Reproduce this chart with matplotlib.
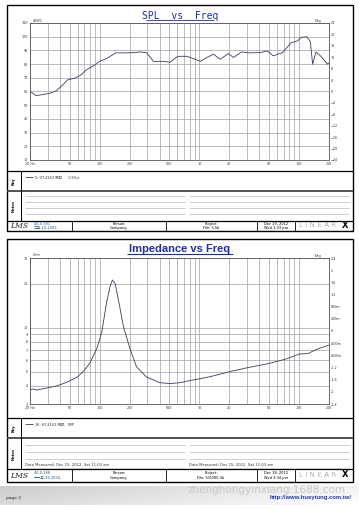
"""Two-page LMS style report: SPL vs Freq and Impedance vs Freq."""

import matplotlib

matplotlib.use("Agg")

import matplotlib.pyplot as plt
import numpy as np

# ---- data ----
freq_ticks = [20, 50, 100, 200, 500, 1000, 2000, 5000, 10000, 20000]
freq_labels = ["20 Hz", "50", "100", "200", "500", "1K", "2K", "5K", "10K", "20K"]

spl_freq = [20, 23, 27, 32, 37, 42, 48, 57, 64, 74, 86, 100, 117, 145, 187, 226,
            254, 297, 346, 436, 508, 594, 640, 748, 873, 1020, 1190, 1390, 1620,
            1960, 2200, 2660, 3100, 4100, 4800, 5520, 6830, 8300, 9700, 10500,
            12000, 13000, 13700, 14800, 16600, 19300, 20000]
spl_db = [60.2, 57.0, 57.8, 58.8, 60.7, 64.4, 68.6, 69.8, 71.8, 75.9, 78.6, 82.0,
          84.0, 88.2, 88.2, 88.4, 88.9, 88.2, 82.0, 82.0, 81.3, 85.2, 85.7, 85.7,
          84.0, 82.0, 84.8, 87.2, 83.5, 87.7, 84.8, 88.9, 88.2, 88.4, 89.6, 86.0,
          88.4, 95.5, 97.0, 99.5, 100.0, 96.3, 79.9, 88.9, 85.7, 80.0, 81.0]
spl_left_ticks = [10, 20, 30, 40, 50, 60, 70, 80, 90, 100, 110]
spl_right_ticks = [-24, -20, -16, -12, -8, -4, 0, 4, 8, 12, 16, 20, 24]

imp_freq = [20, 21.6, 23.4, 29.4, 37, 46.6, 59, 68.6, 80, 93.5, 105, 117, 127,
            134, 143, 154, 173, 201, 234, 294, 400, 506, 640, 813, 1020, 1290,
            2030, 2970, 5100, 7400, 10100, 12300, 15000, 20000]
imp_ohm = [3.76, 3.80, 3.74, 3.86, 3.99, 4.22, 4.57, 5.01, 5.73, 7.2, 9.3, 14.7,
           19.1, 21.2, 20.0, 15.6, 10.2, 7.2, 5.4, 4.6, 4.2, 4.14, 4.2, 4.35, 4.47,
           4.62, 5.0, 5.3, 5.7, 6.1, 6.6, 6.65, 7.1, 7.6]
imp_left_ticks = [3, 4, 5, 6, 7, 8, 9, 10, 20, 30]
imp_right_ticks = [-2.4, -2.0, -1.6, -1.2, -0.8, -0.4, 0.0, 0.4, 0.8, 1.2, 1.6, 2.0, 2.4]
imp_right_labels = ["-2.4", "-2", "-1.6", "-1.2", "-800m", "-400m", "0",
                    "400m", "800m", "1.2", "1.6", "2", "2.4"]

W, H = 359, 509
CURVE = "#3c3c5c"
GRID = "#a0a0a0"
TICK_FS = 2.4
CJK = ["DejaVu Sans", "Noto Sans CJK TC"]

fig = plt.figure(figsize=(W / 100, H / 100), dpi=100)
page = fig.add_axes([0, 0, 1, 1])
page.set_xlim(0, W)
page.set_ylim(H, 0)
page.axis("off")


def place_axes(left, top, right, bottom):
    return fig.add_axes([left / W, 1 - bottom / H, (right - left) / W, (bottom - top) / H])


def hline(y, x0, x1, **kw):
    page.plot([x0, x1], [y, y], solid_capstyle="butt", **kw)


def vline(x, y0, y1, **kw):
    page.plot([x, x], [y0, y1], solid_capstyle="butt", **kw)


def setup_freq_axis(ax):
    ax.set_xscale("log")
    ax.set_xlim(20, 20000)
    ax.set_xticks(freq_ticks)
    ax.set_xticklabels(freq_labels)
    ax.xaxis.set_minor_formatter(plt.NullFormatter())
    ax.grid(which="major", axis="x", color=GRID, linewidth=0.5)
    ax.grid(which="minor", axis="x", color=GRID, linewidth=0.5)
    ax.grid(which="major", axis="y", color=GRID, linewidth=0.5)
    ax.tick_params(axis="both", which="both", length=0, labelsize=TICK_FS, pad=1.5,
                   colors="#333333")
    for spine in ax.spines.values():
        spine.set_color("#555555")
        spine.set_linewidth(0.6)


def draw_page_frame(top, bottom, key_top, notes_top, footer_top, key_text,
                    version, build, project_file, date, clock, measured):
    page.add_patch(plt.Rectangle((7, top), 346, bottom - top, fill=False,
                                 edgecolor="black", linewidth=1.0))
    hline(key_top, 7, 353, color="black", linewidth=0.9)
    hline(notes_top, 7, 353, color="#444444", linewidth=1.3)
    hline(footer_top, 7, 353, color="black", linewidth=0.9)
    vline(21, key_top, footer_top, color="black", linewidth=0.7)
    for x in (72, 166, 257, 295):
        vline(x, footer_top, bottom, color="black", linewidth=0.6)

    page.text(14, (key_top + notes_top) / 2, "Key", rotation=90, fontsize=2.6,
              ha="center", va="center", fontweight="bold")
    page.text(14, (notes_top + footer_top) / 2, "Notes", rotation=90, fontsize=2.6,
              ha="center", va="center", fontweight="bold")

    key_y = key_top + 6
    hline(key_y, 25, 33, color=CURVE, linewidth=0.6)
    page.text(35, key_y, key_text, fontsize=2.5, va="center", family=CJK, color="#333333")

    n_lines = 4 if measured is None else 3
    step = (footer_top - notes_top) / (n_lines + 1.2)
    for i in range(n_lines):
        y = notes_top + step * (i + 0.9)
        hline(y, 25, 185, color="#bbbbbb", linewidth=0.5)
        hline(y, 189, 349, color="#bbbbbb", linewidth=0.5)
    if measured is not None:
        y = footer_top - 3.5
        page.text(25, y, measured, fontsize=2.7, va="center", color="#333333")
        page.text(189, y, measured, fontsize=2.7, va="center", color="#333333")
        hline(footer_top - 1.3, 25, 185, color="#bbbbbb", linewidth=0.4)
        hline(footer_top - 1.3, 189, 349, color="#bbbbbb", linewidth=0.4)

    mid = (footer_top + bottom) / 2
    page.text(10, mid, "LMS", fontsize=5.5, style="italic", family="DejaVu Serif",
              va="center", ha="left", color="#222222")
    page.text(34, mid - 2.2, version, fontsize=2.6, va="center", color="#2a5a8a")
    page.text(34, mid + 2.2, build, fontsize=2.6, va="center", color="#2a5a8a", family=CJK)
    page.text(119, mid - 2.2, "Person:", fontsize=2.6, ha="center", va="center")
    page.text(119, mid + 2.2, "Company:", fontsize=2.6, ha="center", va="center")
    page.text(211, mid - 2.2, "Project:", fontsize=2.6, ha="center", va="center")
    page.text(211, mid + 2.2, project_file, fontsize=2.6, ha="center", va="center")
    page.text(276, mid - 2.2, date, fontsize=2.6, ha="center", va="center")
    page.text(276, mid + 2.2, clock, fontsize=2.6, ha="center", va="center")
    page.text(318, mid - 0.8, "L I N E A R", fontsize=5.2, ha="center", va="center",
              color="#777777", family="DejaVu Sans", fontweight="light")
    page.text(345, mid - 0.8, "X", fontsize=6, ha="center", va="center",
              fontweight="bold", color="black")


# ---- page 1: SPL ----
page.text(180, 15.5, "SPL  vs  Freq", fontsize=7, ha="center", va="center",
          color="#1f2fa0", family="DejaVu Sans Mono")
hline(19.6, 146, 214, color="#1f2fa0", linewidth=0.6)

spl_ax = place_axes(30, 23, 329, 160)
setup_freq_axis(spl_ax)
spl_ax.set_ylim(10, 110)
spl_ax.set_yticks(spl_left_ticks)
spl_ax.plot(spl_freq, spl_db, color=CURVE, linewidth=0.6)
spl_right = spl_ax.twinx()
spl_right.set_ylim(-24, 24)
spl_right.set_yticks(spl_right_ticks)
spl_right.tick_params(length=0, labelsize=TICK_FS, pad=1.5, colors="#333333")
for spine in spl_right.spines.values():
    spine.set_visible(False)
page.text(33, 20.5, "dBSPL", fontsize=2.3, va="center", color="#333333")
page.text(321, 20.5, "Deg", fontsize=2.3, va="center", ha="right", color="#333333")
page.text(321, 153, "LMS", fontsize=4.5, style="italic", family="DejaVu Serif",
          ha="right", va="center", color="#222222")

draw_page_frame(5, 231, 171, 191, 221, "5: HT-4163 喇叭     1/3Oct",
                "4.6.0.391", "二月-10-2005", "File: 5.lib", "Dec 19, 2012",
                "Wed 3:33 pm", None)

# ---- page 2: impedance ----
page.text(180, 249, "Impedance vs Freq", fontsize=8, ha="center", va="center",
          color="#1f2fa0", fontweight="bold", family="Liberation Sans")
hline(254.3, 127, 233, color="#1f2fa0", linewidth=0.8)

imp_ax = place_axes(30, 258, 329, 404)
setup_freq_axis(imp_ax)
imp_ax.set_yscale("log")
imp_ax.set_ylim(3, 30)
imp_ax.set_yticks(imp_left_ticks)
imp_ax.set_yticklabels([str(t) for t in imp_left_ticks])
imp_ax.yaxis.set_minor_locator(plt.NullLocator())
imp_ax.plot(imp_freq, imp_ohm, color=CURVE, linewidth=0.6)
imp_right = imp_ax.twinx()
imp_right.set_ylim(-2.4, 2.4)
imp_right.set_yticks(imp_right_ticks)
imp_right.set_yticklabels(imp_right_labels)
imp_right.tick_params(length=0, labelsize=TICK_FS, pad=1.5, colors="#333333")
for spine in imp_right.spines.values():
    spine.set_visible(False)
page.text(33, 255.5, "Ohm", fontsize=2.3, va="center", color="#333333")
page.text(321, 255.5, "Deg", fontsize=2.3, va="center", ha="right", color="#333333")
page.text(321, 397, "LMS", fontsize=4.5, style="italic", family="DejaVu Serif",
          ha="right", va="center", color="#222222")

draw_page_frame(239, 482, 418, 438, 469, "36: HT-4163 喇叭   IMP",
                "4.6.0.348", "十一月-18-2004", "File: 5/0005.lib", "Dec 18, 2012",
                "Wed 3:34 pm", "Data Measured: Dec 15, 2012  Sat 11:03 am")

# ---- bottom strip ----
xs = np.linspace(0, 1, 200)
ys = np.linspace(0, 1, 30)
shade = 0.80 + 0.15 * xs[None, :] + 0.05 * ys[:, None]
page.imshow(shade, cmap="gray", vmin=0, vmax=1, extent=(0, W, 505, 486),
            aspect="auto", zorder=0)
page.set_xlim(0, W)
page.set_ylim(H, 0)
page.text(6, 498, "page 2", fontsize=3.2, va="center", color="#222222")
page.text(188, 490, "zhenghongyinxiang.1688.com", fontsize=7.5, va="center",
          color="#c8c8c8", family="DejaVu Sans")
page.text(352, 498, "http://www.hueytung.com.tw/", fontsize=4.2, va="center",
          ha="right", color="#1a3fbf", fontweight="bold", family="Liberation Sans")

fig.savefig("out.png", dpi=100)
plt.close(fig)
